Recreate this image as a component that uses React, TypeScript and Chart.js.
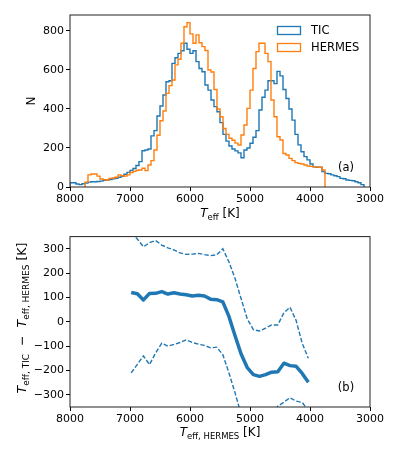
import React, { useEffect, useRef } from 'react';
import { Chart, registerables } from 'chart.js';

Chart.register(...registerables);

// ---------- data ----------
const HIST_TOP_EDGE = 8000; // K, left edge of first bin (axis reversed)
const HIST_BIN_WIDTH = 50; // K

const TIC_COUNTS = [
  22, 22, 15, 12, 17, 20, 25, 27, 27, 28,
  30, 34, 36, 38, 42, 44, 50, 55, 65, 75,
  85, 95, 110, 130, 186, 190, 195, 262, 289, 364,
  415, 472, 540, 545, 634, 663, 685, 699, 737, 706,
  685, 699, 643, 608, 591, 523, 497, 446, 412, 386,
  330, 270, 235, 210, 195, 185, 175, 150, 190, 200,
  224, 255, 289, 395, 460, 497, 545, 545, 530, 593,
  570, 500, 454, 400, 343, 270, 216, 181, 156, 139,
  118, 104, 101, 101, 79, 70, 68, 62, 58, 53,
  44, 42, 36, 34, 32, 27, 22, 12, 0, 0,
];

const HERMES_COUNTS = [
  0, 0, 0, 0, 0, 25, 62, 67, 67, 56,
  41, 38, 36, 44, 46, 50, 62, 58, 56, 62,
  74, 80, 86, 87, 96, 84, 113, 135, 190, 265,
  340, 390, 480, 520, 549, 626, 655, 737, 822, 843,
  785, 737, 780, 740, 720, 700, 600, 590, 500, 400,
  360, 300, 270, 250, 240, 225, 215, 267, 318, 403,
  497, 608, 694, 737, 737, 685, 643, 446, 360, 258,
  241, 172, 164, 147, 135, 125, 121, 118, 113, 108,
  106, 104, 102, 101, 87, 0, 0, 0, 0, 0,
  0, 0, 0, 0, 0, 0, 0, 0, 0, 0,
];

const TEFF_TICKS = [8000, 7000, 6000, 5000, 4000, 3000];
const N_TICKS = [0, 200, 400, 600, 800];
const DIFF_TICKS = [-300, -200, -100, 0, 100, 200, 300];

const DIFF_TEFF = [
  6980, 6878, 6776, 6675, 6573, 6471, 6369, 6267, 6166, 6064,
  5962, 5860, 5758, 5657, 5555, 5453, 5351, 5249, 5148, 5046,
  4944, 4842, 4740, 4639, 4537, 4435, 4333, 4231, 4130, 4028,
];
const DIFF_MEDIAN = [
  120, 115, 90, 116, 117, 124, 114, 119, 114, 111,
  106, 109, 106, 93, 91, 82, 22, -57, -132, -188,
  -217, -224, -217, -207, -205, -170, -180, -183, -212, -248,
];
const DIFF_UPPER = [
  365, 340, 308, 325, 334, 315, 304, 295, 283, 277,
  278, 281, 276, 272, 275, 300, 246, 178, 95, 12,
  -32, -38, -26, -13, -13, 37, 60, 5, -88, -150,
];
const DIFF_LOWER = [
  -210, -175, -140, -176, -128, -88, -100, -93, -85, -74,
  -85, -92, -97, -107, -104, -135, -210, -292, -380, -420,
  -430, -425, -410, -390, -347, -330, -312, -326, -331, -365,
];

// ---------- helpers ----------
const BLUE = '#1f77b4';
const ORANGE = '#ff7f0e';
const FONT = '"DejaVu Sans", sans-serif';

function edge(i: number) {
  return HIST_TOP_EDGE - i * HIST_BIN_WIDTH;
}

function stepPoints(counts: number[]) {
  let first = 0;
  while (first < counts.length && counts[first] === 0) first++;
  let last = counts.length - 1;
  while (last > 0 && counts[last] === 0) last--;
  const pts: { x: number; y: number }[] = [{ x: edge(first), y: 0 }];
  for (let i = first; i <= last; i++) {
    pts.push({ x: edge(i), y: counts[i] });
    pts.push({ x: edge(i + 1), y: counts[i] });
  }
  pts.push({ x: edge(last + 1), y: 0 });
  return pts;
}

function series(ys: number[]) {
  return DIFF_TEFF.map((x, i) => ({ x, y: ys[i] }));
}

type Part = { t: string; size: number; italic?: boolean; dy?: number };

function drawRich(ctx: CanvasRenderingContext2D, parts: Part[], x: number, y: number, rotate = false) {
  ctx.save();
  ctx.translate(x, y);
  if (rotate) ctx.rotate(-Math.PI / 2);
  ctx.fillStyle = '#000';
  ctx.textBaseline = 'alphabetic';
  ctx.textAlign = 'left';
  const widths = parts.map((p) => {
    ctx.font = `${p.italic ? 'italic ' : ''}${p.size}px ${FONT}`;
    return ctx.measureText(p.t).width;
  });
  const total = widths.reduce((a, b) => a + b, 0);
  let cx = -total / 2;
  parts.forEach((p, i) => {
    ctx.font = `${p.italic ? 'italic ' : ''}${p.size}px ${FONT}`;
    ctx.fillText(p.t, cx, p.dy || 0);
    cx += widths[i];
  });
  ctx.restore();
}

const MAIN = 12;
const SUB = 8.5;
const SUB_DY = 3;

const framePlugin = {
  id: 'frame',
  afterDraw(chart: any) {
    const { ctx, chartArea: a } = chart;
    ctx.save();
    ctx.strokeStyle = '#222';
    ctx.lineWidth = 1;
    ctx.strokeRect(a.left, a.top, a.right - a.left, a.bottom - a.top);
    ctx.restore();
  },
};

function tickFmt(v: number | string) {
  const n = Number(v);
  return n < 0 ? '\u2212' + Math.abs(n) : String(n);
}

function xScale(height: number) {
  return {
    type: 'linear',
    reverse: true,
    min: 3000,
    max: 8000,
    afterBuildTicks: (s: any) => {
      s.ticks = TEFF_TICKS.map((v) => ({ value: v }));
    },
    afterFit: (s: any) => {
      s.height = height;
    },
    grid: { display: true, drawOnChartArea: false, drawTicks: true, tickLength: 4, tickColor: '#000', tickWidth: 1 },
    border: { display: false },
    ticks: { color: '#000', font: { family: FONT, size: 11 }, padding: 2, maxRotation: 0, autoSkip: false, callback: tickFmt },
  };
}

function yScale(min: number, max: number, list: number[]) {
  return {
    type: 'linear',
    min,
    max,
    afterBuildTicks: (s: any) => {
      s.ticks = list.map((v) => ({ value: v }));
    },
    afterFit: (s: any) => {
      s.width = 70;
    },
    grid: { display: true, drawOnChartArea: false, drawTicks: true, tickLength: 4, tickColor: '#000', tickWidth: 1 },
    border: { display: false },
    ticks: { color: '#000', font: { family: FONT, size: 11 }, padding: 2, autoSkip: false, callback: tickFmt },
  };
}

function topConfig(): any {
  const labels = {
    id: 'topLabels',
    afterDraw(chart: any) {
      const ctx = chart.ctx as CanvasRenderingContext2D;
      drawRich(ctx, [
        { t: 'T', size: MAIN, italic: true },
        { t: 'eff', size: SUB, dy: SUB_DY },
        { t: ' [K]', size: MAIN },
      ], 220, 217);
      drawRich(ctx, [{ t: 'N', size: MAIN }], 35, 101, true);
      drawRich(ctx, [{ t: '(a)', size: 11.5 }], 346, 171);
      // legend
      ctx.save();
      ctx.lineWidth = 1.3;
      ctx.strokeStyle = BLUE;
      ctx.strokeRect(277.5, 26.5, 23, 8);
      ctx.strokeStyle = ORANGE;
      ctx.strokeRect(277.5, 43.5, 23, 8);
      ctx.fillStyle = '#000';
      ctx.font = `11.5px ${FONT}`;
      ctx.textBaseline = 'middle';
      ctx.fillText('TIC', 311, 31);
      ctx.fillText('HERMES', 311, 48);
      ctx.restore();
    },
  };
  return {
    type: 'line',
    data: {
      datasets: [
        { label: 'TIC', data: stepPoints(TIC_COUNTS), borderColor: BLUE, borderWidth: 1.4, pointRadius: 0, fill: false, tension: 0, order: 1, clip: 0 },
        { label: 'HERMES', data: stepPoints(HERMES_COUNTS), borderColor: ORANGE, borderWidth: 1.4, pointRadius: 0, fill: false, tension: 0, order: 0, clip: 0 },
      ],
    },
    options: {
      animation: false,
      responsive: false,
      events: [],
      layout: { padding: { top: 15, right: 29, left: 0, bottom: 0 } },
      plugins: { legend: { display: false }, tooltip: { enabled: false } },
      scales: {
        x: xScale(41),
        y: yScale(0, 882, N_TICKS),
      },
    },
    plugins: [framePlugin, labels],
  };
}

function bottomConfig(): any {
  const labels = {
    id: 'botLabels',
    afterDraw(chart: any) {
      const ctx = chart.ctx as CanvasRenderingContext2D;
      drawRich(ctx, [
        { t: 'T', size: MAIN, italic: true },
        { t: 'eff, HERMES', size: SUB, dy: SUB_DY },
        { t: ' [K]', size: MAIN },
      ], 220, 208);
      drawRich(ctx, [
        { t: 'T', size: 12.5, italic: true },
        { t: 'eff, TIC', size: 9, dy: SUB_DY },
        { t: '  \u2212  ', size: 12.5 },
        { t: 'T', size: 12.5, italic: true },
        { t: 'eff, HERMES', size: 9, dy: SUB_DY },
        { t: ' [K]', size: 12.5 },
      ], 26, 90, true);
      drawRich(ctx, [{ t: '(b)', size: 11.5 }], 346, 163);
    },
  };
  const common = { borderColor: BLUE, pointRadius: 0, fill: false, tension: 0, clip: 0 };
  return {
    type: 'line',
    data: {
      datasets: [
        { label: 'median', data: series(DIFF_MEDIAN), borderWidth: 3.5, borderJoinStyle: 'round', borderCapStyle: 'butt', ...common },
        { label: 'upper', data: series(DIFF_UPPER), borderWidth: 1.4, borderDash: [4.5, 2], ...common },
        { label: 'lower', data: series(DIFF_LOWER), borderWidth: 1.4, borderDash: [4.5, 2], ...common },
      ],
    },
    options: {
      animation: false,
      responsive: false,
      events: [],
      layout: { padding: { top: 8, right: 29, left: 0, bottom: 0 } },
      plugins: { legend: { display: false }, tooltip: { enabled: false } },
      scales: {
        x: xScale(49),
        y: yScale(-350, 350, DIFF_TICKS),
      },
    },
    plugins: [framePlugin, labels],
  };
}

export default function App() {
  const topRef = useRef<HTMLCanvasElement>(null);
  const botRef = useRef<HTMLCanvasElement>(null);
  useEffect(() => {
    const c1 = new Chart(topRef.current!, topConfig());
    const c2 = new Chart(botRef.current!, bottomConfig());
    return () => {
      c1.destroy();
      c2.destroy();
    };
  }, []);
  return (
    <div style={{ position: 'absolute', left: 0, top: 0, width: 399, height: 456, background: '#fff' }}>
      <canvas ref={topRef} width={399} height={228} style={{ position: 'absolute', left: 0, top: 0, width: 399, height: 228 }} />
      <canvas ref={botRef} width={399} height={228} style={{ position: 'absolute', left: 0, top: 228, width: 399, height: 228 }} />
    </div>
  );
}
